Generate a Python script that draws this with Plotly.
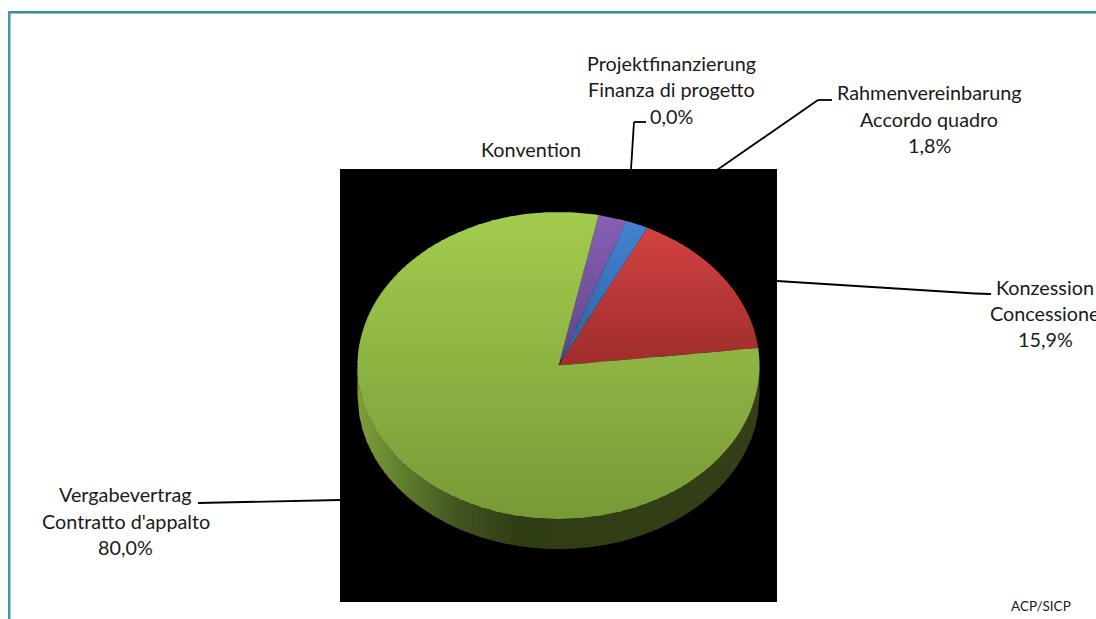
import math
import plotly.graph_objects as go

# ---- data (clockwise from the start angle) ----
categories = ["Konvention", "Rahmenvereinbarung", "Konzession", "Vergabevertrag"]
values = [2.3, 1.8, 15.9, 80.0]
project_value = 0.0
start_angle = 11.5

label_blocks = [
    (["Konvention"], 531, [149]),
    (["Projektfinanzierung", "Finanza di progetto", "0,0%"], 671, [63, 89, 116]),
    (["Rahmenvereinbarung", "Accordo quadro", "1,8%"], 929, [92, 119, 145]),
    (["Konzession", "Concessione", "15,9%"], 1045, [287, 313, 339]),
    (["Vergabevertrag", "Contratto d'appalto", "80,0%"], 125.5, [494, 521, 547]),
]
source_note = "ACP/SICP"

top_colors = ["#8761B3", "#4283D4", "#D24241", "#A2CC4E"]
bottom_colors = ["#5F4488", "#2F5F9C", "#9E2E2B", "#789A37"]
wall_stops = [(358, "#7F9F3B"), (410, "#5C7A2C"), (460, "#42531F"), (520, "#2F3D15"), (760, "#333F17")]

leaders = [
    [(198, 503), (340, 500)],
    [(777, 281), (975, 293.5), (991, 294)],
    [(717, 170), (818, 100), (832, 100)],
    [(631, 169), (634, 122), (646, 122)],
]

CX, CY, RX, RY, DEPTH = 558.5, 365.5, 201, 153.5, 30
FONT = "Lato"


def hex2rgb(h):
    return [int(h[i:i + 2], 16) for i in (1, 3, 5)]


def mix(a, b, f):
    a, b = hex2rgb(a), hex2rgb(b)
    return "rgb(%d,%d,%d)" % tuple(round(a[i] + (b[i] - a[i]) * f) for i in range(3))


def clip(poly, y0, y1):
    def half(pts, inside, cross):
        out = []
        for i, p in enumerate(pts):
            q = pts[(i + 1) % len(pts)]
            if inside(p):
                out.append(p)
            if inside(p) != inside(q):
                out.append(cross(p, q))
        return out

    def cut(y):
        return lambda p, q: (p[0] + (q[0] - p[0]) * (y - p[1]) / (q[1] - p[1]), y)

    pts = half(poly, lambda p: p[1] >= y0, cut(y0))
    return half(pts, lambda p: p[1] <= y1, cut(y1)) if pts else pts


def ell(t):
    r = math.radians(t)
    return (CX + RX * math.sin(r), CY - RY * math.cos(r))


fig = go.Figure()


def add_poly(pts, color):
    fig.add_trace(go.Scatter(
        x=[p[0] for p in pts] + [pts[0][0]], y=[p[1] for p in pts] + [pts[0][1]],
        mode="lines", fill="toself", fillcolor=color, line=dict(width=0),
        hoverinfo="skip", showlegend=False))


# side wall (lower half of the ellipse, shaded left to right)
n_wall = 90
for i in range(n_wall):
    x0 = CX - RX + 2 * RX * i / n_wall
    x1 = min(CX + RX, x0 + 2 * RX / n_wall + 1)
    xs = [x0 + (x1 - x0) * k / 3 for k in range(4)]
    low = [CY + RY * math.sqrt(max(0, 1 - ((x - CX) / RX) ** 2)) for x in xs]
    pts = [(x, y) for x, y in zip(xs, low)] + [(x, y + DEPTH) for x, y in reversed(list(zip(xs, low)))]
    xm = (x0 + x1) / 2
    col = None
    for (a, ca), (b, cb) in zip(wall_stops, wall_stops[1:]):
        if a <= xm <= b:
            col = mix(ca, cb, (xm - a) / (b - a))
    add_poly(pts, col or wall_stops[-1][1])

# top face: slices from the values, each with a vertical gradient
angle = start_angle
for v, top, bot in zip(values, top_colors, bottom_colors):
    sweep = v / sum(values) * 360
    steps = max(4, int(sweep))
    poly = [(CX, CY)] + [ell(angle + sweep * k / steps) for k in range(steps + 1)]
    ys = [p[1] for p in poly]
    y0, y1 = min(ys), max(ys)
    n = max(8, int((y1 - y0) / 4))
    for i in range(n):
        a = y0 + (y1 - y0) * i / n
        b = y0 + (y1 - y0) * (i + 1) / n + (1 if i < n - 1 else 0)
        part = clip(poly, a, b)
        if len(part) >= 3:
            add_poly(part, mix(top, bot, (i + 0.5) / n))
    angle += sweep

shapes = [
    dict(type="rect", xref="x", yref="y", x0=340, x1=777, y0=169, y1=602,
         fillcolor="#000000", line_width=0, layer="below"),
    dict(type="rect", xref="x", yref="y", x0=8, x1=1096, y0=11, y1=13.5,
         fillcolor="#3C89A0", line_width=0, layer="below"),
    dict(type="rect", xref="x", yref="y", x0=8, x1=10.5, y0=11, y1=619,
         fillcolor="#4A93A8", line_width=0, layer="below"),
]
for pts in leaders:
    for p, q in zip(pts, pts[1:]):
        shapes.append(dict(type="line", xref="x", yref="y", x0=p[0], y0=p[1], x1=q[0], y1=q[1],
                           line=dict(color="#000000", width=1.8), layer="below"))

annotations = []
for lines, cx, ys in label_blocks:
    for text, y in zip(lines, ys):
        annotations.append(dict(x=cx, y=y, xref="x", yref="y", text=text, showarrow=False,
                                xanchor="center", yanchor="middle",
                                font=dict(family=FONT, size=19.8, color="#1a1a1a")))
annotations.append(dict(x=1041, y=606, xref="x", yref="y", text=source_note, showarrow=False,
                        xanchor="center", yanchor="middle",
                        font=dict(family=FONT, size=13.5, color="#1a1a1a")))

fig.update_layout(
    width=1096, height=619, margin=dict(l=0, r=0, t=0, b=0),
    paper_bgcolor="white", plot_bgcolor="white", showlegend=False,
    xaxis=dict(range=[0, 1096], visible=False, fixedrange=True),
    yaxis=dict(range=[619, 0], visible=False, fixedrange=True),
    shapes=shapes, annotations=annotations,
)

fig.write_html("out.html", config=dict(displayModeBar=False),
               post_script="document.body.style.margin='0';document.body.style.overflow='hidden';")
